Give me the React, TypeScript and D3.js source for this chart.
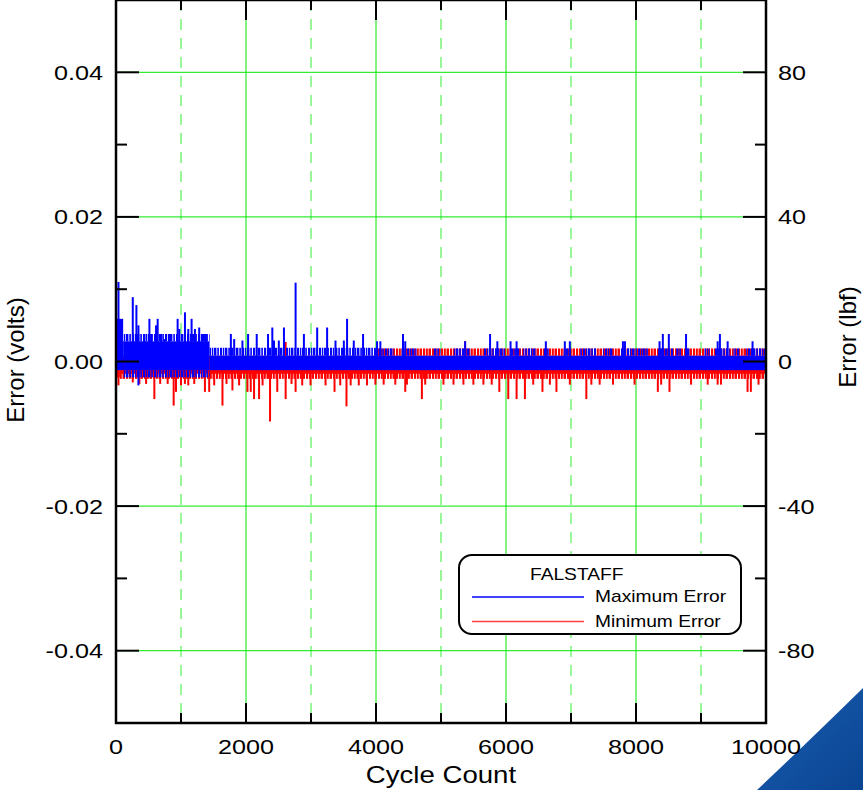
import React, { useEffect, useRef } from "react";
import * as d3 from "d3";

// axis ticks
const cycleMajor = [0, 2000, 4000, 6000, 8000, 10000];
const cycleMinor = [1000, 3000, 5000, 7000, 9000];
const voltMajor = [-0.04, -0.02, 0, 0.02, 0.04];
const voltMinor = [-0.03, -0.01, 0.01, 0.03];
const lbfMajor = [-80, -40, 0, 40, 80];

// [from cycle, to cycle, low volts, high volts] - dense part of each trace
const maxBand: number[][] = [
  [0, 110, -0.0012, 0.0059],
  [110, 1440, -0.0012, 0.0028],
  [1440, 10000, -0.0012, 0.0008],
];
const maxFuzz: number[][] = [
  [110, 1440, -0.0022, -0.0012],
  [110, 1440, 0.0028, 0.0038],
  [1440, 3990, 0.0008, 0.0019],
  [3965, 4272, 0.0008, 0.0018],
  [4394, 4624, 0.0008, 0.0018],
  [4885, 4993, 0.0008, 0.0018],
  [5192, 5452, 0.0008, 0.0018],
  [5652, 5989, 0.0008, 0.0018],
  [6066, 6220, 0.0008, 0.0018],
  [6265, 6465, 0.0008, 0.0018],
  [6580, 6660, 0.0008, 0.0018],
  [6880, 7000, 0.0008, 0.0018],
  [7140, 7385, 0.0008, 0.0018],
  [7490, 7645, 0.0008, 0.0018],
  [7770, 7985, 0.0008, 0.0018],
  [7990, 8200, 0.0008, 0.0018],
  [8340, 8570, 0.0008, 0.0018],
  [8620, 8700, 0.0008, 0.0018],
  [8770, 8830, 0.0008, 0.0018],
  [9055, 9135, 0.0008, 0.0018],
  [9210, 9440, 0.0008, 0.0018],
  [9490, 9600, 0.0008, 0.0018],
  [9690, 10000, 0.0008, 0.0018],
];
// [cycle, volts]
const maxSpikes: number[][] = [
  [38, 0.011], [258, 0.0089], [314, 0.0078], [345, 0.005], [345, -0.0033], [437, 0.0038],
  [514, 0.0059], [540, 0.0038], [616, 0.005], [641, 0.0059], [693, 0.0038], [744, 0.0031],
  [820, 0.0038], [948, 0.0059], [974, 0.0045], [1061, 0.0068], [1112, 0.0045], [1163, 0.0059],
  [1214, 0.0045], [1280, 0.0047], [1332, 0.0038], [1383, 0.0038], [1767, 0.0038], [1818, 0.0031],
  [1945, 0.0029], [2032, 0.0038], [2165, 0.0038], [2339, 0.0038], [2405, 0.0047], [2431, 0.0029],
  [2505, 0.0029], [2584, 0.0047], [2763, 0.0109], [2891, 0.0038], [3095, 0.0047], [3248, 0.0047],
  [3377, 0.0029], [3505, 0.0029], [3555, 0.0059], [3658, 0.0029], [3801, 0.0038],
  [4016, 0.0028], [4067, 0.0028], [4415, 0.0038], [4450, 0.0028], [5371, 0.0028], [5755, 0.0038],
  [5867, 0.0028], [6070, 0.0028], [6163, 0.0028], [6613, 0.0028], [6905, 0.0028], [6982, 0.0028],
  [7799, 0.0028], [7830, 0.0028], [8362, 0.0028], [8413, 0.0038], [8505, 0.0038], [8770, 0.0038],
  [9256, 0.0028], [9291, 0.0038], [9410, 0.0028], [9793, 0.0028],
];

const minBand: number[][] = [
  [0, 60, -0.0022, 0.0035],
  [60, 10000, -0.0017, 0.0008],
];
const minFuzz: number[][] = [
  [60, 10000, -0.0024, -0.0012],
  [3990, 10000, 0.0008, 0.0018],
];
const minSpikes: number[][] = [
  [38, -0.0033], [258, -0.0029], [360, -0.0031], [463, -0.0031], [590, -0.0052], [680, -0.0031],
  [795, -0.0031], [887, -0.0061], [923, -0.0042], [1000, -0.0033], [1060, -0.0031], [1112, -0.0033],
  [1204, -0.0031], [1368, -0.0042], [1434, -0.0042], [1511, -0.0033], [1638, -0.0061], [1700, -0.0031],
  [1791, -0.004], [1894, -0.0033], [2022, -0.0042], [2073, -0.0042], [2124, -0.0052], [2201, -0.0052],
  [2255, -0.0033], [2370, -0.0083], [2481, -0.0042], [2610, -0.0052], [2610, 0.0027], [2700, -0.0031],
  [2763, -0.0042], [2865, -0.0033], [2993, -0.0033], [3224, -0.0033], [3362, -0.0042], [3450, -0.0033],
  [3546, -0.0062], [3610, -0.0033], [3735, -0.0033], [3862, -0.0033], [3990, -0.0032], [4118, -0.0032],
  [4297, -0.0032], [4450, -0.0042], [4476, -0.0032], [4706, -0.0052], [4757, -0.0032], [5038, -0.0032],
  [5192, -0.0032], [5345, -0.0032], [5371, 0.0028], [5498, -0.0032], [5652, -0.0032], [5780, -0.0032],
  [5897, -0.0042], [6035, -0.0052], [6163, -0.0052], [6291, -0.0052], [6419, -0.0032], [6561, -0.0042],
  [6675, -0.0032], [6776, -0.0042], [6982, -0.0032], [7236, -0.0052], [7313, -0.0032], [7441, -0.0032],
  [7646, -0.0032], [7978, -0.0032], [8336, -0.0042], [8387, -0.0032], [8515, -0.0042], [8847, -0.0032],
  [9103, -0.0032], [9256, -0.0032], [9307, -0.0032], [9716, -0.0042], [9767, -0.0042], [9885, -0.0032],
];

const legendTitle = "FALSTAFF";
const legendItems = [
  { label: "Maximum Error", color: "#0000ff" },
  { label: "Minimum Error", color: "#ff4040" },
];

const FONT = '"Liberation Sans", Arial, sans-serif';

export default function App() {
  const svgRef = useRef<SVGSVGElement>(null);

  useEffect(() => {
    const svg = d3.select(svgRef.current);
    svg.selectAll("*").remove();

    const x = d3.scaleLinear().domain([0, 10000]).range([116, 766]);
    const yV = d3.scaleLinear().domain([-0.05, 0.05]).range([723, 0]);
    const yL = d3.scaleLinear().domain([-100, 100]).range([723, 0]);
    const fmtV = (v: number) => d3.format(".2f")(v).replace("\u2212", "-");

    const defs = svg.append("defs");
    // uneven vertical hatching stands in for the densely packed samples
    const stripe = (id: string, color: string, w: number, bars: number[][]) => {
      const p = defs.append("pattern").attr("id", id).attr("patternUnits", "userSpaceOnUse")
        .attr("width", w).attr("height", 20);
      bars.forEach(b => p.append("rect").attr("x", b[0]).attr("width", b[1]).attr("height", 20).attr("fill", color));
    };
    stripe("blueFuzz", "#0000ff", 11, [[0, 2], [2.8, 1.5], [5, 2.4], [8.3, 1.6]]);
    stripe("redFuzz", "#ff0000", 9, [[0, 2.2], [3, 1.8], [5.5, 2.5]]);
    defs.append("clipPath").attr("id", "plotClip")
      .append("rect").attr("x", 116).attr("y", 0).attr("width", 650).attr("height", 723);
    const grad = defs.append("linearGradient").attr("id", "swoosh")
      .attr("x1", 0).attr("y1", 0).attr("x2", 1).attr("y2", 1);
    grad.append("stop").attr("offset", "0%").attr("stop-color", "#1a5cb0");
    grad.append("stop").attr("offset", "100%").attr("stop-color", "#0a4592");

    // corner decoration
    svg.append("path")
      .attr("d", "M757,790 Q808,742 863,688 L863,790 Z")
      .attr("fill", "url(#swoosh)");

    // grid
    const grid = svg.append("g");
    grid.selectAll("line.vmaj").data(cycleMajor.slice(1, -1)).enter().append("line")
      .attr("x1", d => x(d)).attr("x2", d => x(d)).attr("y1", 0).attr("y2", 723)
      .style("stroke", "#00e600").style("stroke-width", 1);
    grid.selectAll("line.vmin").data(cycleMinor).enter().append("line")
      .attr("x1", d => x(d)).attr("x2", d => x(d)).attr("y1", 0).attr("y2", 723)
      .style("stroke", "#33ee33").style("stroke-width", 1).style("stroke-dasharray", "11,8");
    grid.selectAll("line.h").data(voltMajor).enter().append("line")
      .attr("x1", 116).attr("x2", 766).attr("y1", d => yV(d)).attr("y2", d => yV(d))
      .style("stroke", "#00e600").style("stroke-width", 1);

    // traces
    const drawSeries = (band: number[][], fuzz: number[][], spikes: number[][], color: string, pat: string) => {
      const g = svg.append("g").attr("clip-path", "url(#plotClip)");
      g.selectAll("rect.fuzz").data(fuzz).enter().append("rect")
        .attr("x", d => x(d[0])).attr("width", d => x(d[1]) - x(d[0]))
        .attr("y", d => yV(d[3])).attr("height", d => yV(d[2]) - yV(d[3]))
        .attr("fill", `url(#${pat})`);
      g.selectAll("rect.band").data(band).enter().append("rect")
        .attr("x", d => x(d[0])).attr("width", d => x(d[1]) - x(d[0]))
        .attr("y", d => yV(d[3])).attr("height", d => yV(d[2]) - yV(d[3]))
        .attr("fill", color);
      g.selectAll("line.spike").data(spikes).enter().append("line")
        .attr("x1", d => x(d[0])).attr("x2", d => x(d[0]))
        .attr("y1", yV(0)).attr("y2", d => yV(d[1]))
        .style("stroke", color).style("stroke-width", 2);
    };
    drawSeries(minBand, minFuzz, minSpikes, "#ff0000", "redFuzz");
    drawSeries(maxBand, maxFuzz, maxSpikes, "#0000ff", "blueFuzz");

    // frame and ticks
    const axes = svg.append("g").style("stroke", "#000");
    axes.append("rect").attr("x", 116).attr("y", 0).attr("width", 650).attr("height", 723)
      .attr("fill", "none").style("stroke-width", 2.5);
    const vTicks = (vals: number[], len: number) => {
      axes.selectAll(null).data(vals).enter().append("line")
        .attr("x1", 116).attr("x2", 116 + len).attr("y1", d => yV(d)).attr("y2", d => yV(d))
        .style("stroke-width", 2);
      axes.selectAll(null).data(vals).enter().append("line")
        .attr("x1", 766).attr("x2", 766 - len).attr("y1", d => yV(d)).attr("y2", d => yV(d))
        .style("stroke-width", 2);
    };
    vTicks(voltMajor, 23);
    vTicks(voltMinor, 11);
    const hTicks = (vals: number[], len: number) => {
      axes.selectAll(null).data(vals).enter().append("line")
        .attr("x1", d => x(d)).attr("x2", d => x(d)).attr("y1", 723).attr("y2", 723 - len)
        .style("stroke-width", 2);
      axes.selectAll(null).data(vals).enter().append("line")
        .attr("x1", d => x(d)).attr("x2", d => x(d)).attr("y1", 0).attr("y2", len)
        .style("stroke-width", 2);
    };
    hTicks(cycleMajor, 20);
    hTicks(cycleMinor, 10);

    // text (the original picture is stretched sideways a little)
    const label = (tx: number, ty: number, s: string, size: number, anchor: string) =>
      svg.append("text")
        .attr("transform", `translate(${tx},${ty}) scale(1.2,1)`)
        .attr("text-anchor", anchor)
        .style("font-family", FONT).style("font-size", `${size}px`).style("fill", "#000")
        .text(s);

    voltMajor.forEach(v => label(103, yV(v) + 7.5, fmtV(v), 21, "end"));
    lbfMajor.forEach(v => label(778, yL(v) + 7.5, String(v), 21, "start"));
    cycleMajor.forEach(c => label(x(c), 754, String(c), 21, "middle"));
    label(441, 783, "Cycle Count", 23, "middle");

    svg.append("text")
      .attr("transform", "translate(24,360) rotate(-90)")
      .attr("text-anchor", "middle")
      .style("font-family", FONT).style("font-size", "24px")
      .text("Error (volts)");
    svg.append("text")
      .attr("transform", "translate(856,337) rotate(-90)")
      .attr("text-anchor", "middle")
      .style("font-family", FONT).style("font-size", "24px")
      .text("Error (lbf)");

    // legend
    const lg = svg.append("g");
    lg.append("rect").attr("x", 459).attr("y", 555).attr("width", 282).attr("height", 79)
      .attr("rx", 13).attr("fill", "#fff").style("stroke", "#000").style("stroke-width", 2);
    label(530, 580, legendTitle, 16, "start");
    legendItems.forEach((it, i) => {
      const ly = 597 + i * 24.5;
      lg.append("line").attr("x1", 472).attr("x2", 584).attr("y1", ly).attr("y2", ly)
        .style("stroke", it.color).style("stroke-width", 1.3);
      label(595, ly + 5, it.label, 16, "start");
    });
  }, []);

  return (
    <svg ref={svgRef} width={863} height={790}
      style={{ position: "absolute", left: 0, top: 0, background: "#fff" }} />
  );
}
